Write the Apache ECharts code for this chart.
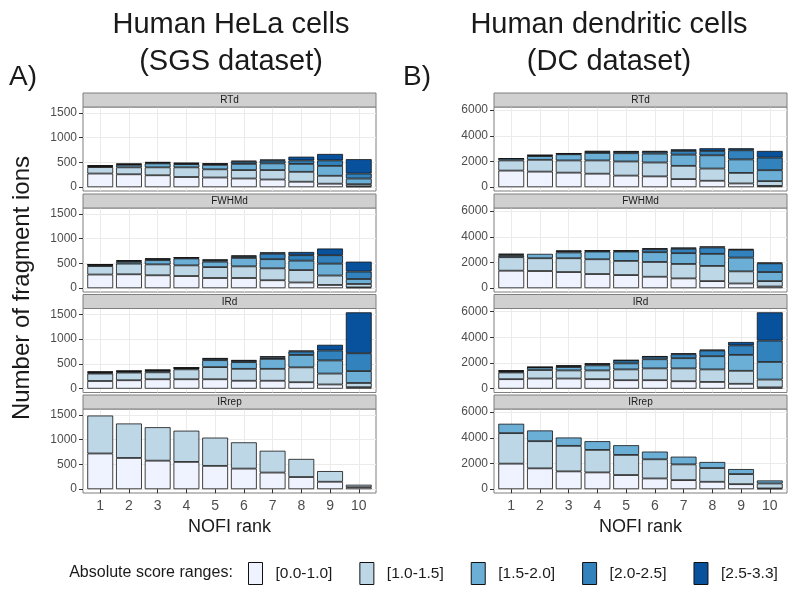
<!DOCTYPE html>
<html><head><meta charset="utf-8">
<script src="https://cdn.jsdelivr.net/npm/echarts@6/dist/echarts.min.js"></script>
<style>html,body{margin:0;padding:0;background:#fff}#c{width:800px;height:592px}</style>
</head><body><div id="c"></div>
<script>
// ---- categories / labels ----
const ranks = [1,2,3,4,5,6,7,8,9,10];
const scoreRanges = ['[0.0-1.0]','[1.0-1.5]','[1.5-2.0]','[2.0-2.5]','[2.5-3.3]'];
const facets = ['RTd','FWHMd','IRd','IRrep'];
const sgsTicks = [0,500,1000,1500];
const dcTicks = [0,2000,4000,6000];

// ---- Human HeLa cells (SGS dataset): rows = score ranges, cols = NOFI rank 1..10 ----
const sgs_RTd = [
  [275,260,240,205,195,175,155,110,70,15],
  [130,140,160,195,165,170,190,200,160,45],
  [15,50,80,65,90,125,135,160,200,115],
  [10,15,15,15,20,45,55,70,110,100],
  [10,10,10,10,10,20,25,75,130,290]
];
const sgs_FWHMd = [
  [275,280,260,245,205,205,160,115,65,15],
  [170,215,220,215,220,235,240,250,190,70],
  [25,40,85,140,110,170,185,190,240,100],
  [5,15,25,15,30,35,110,110,170,150],
  [5,15,10,5,15,15,30,65,135,200]
];
const sgs_IRd = [
  [155,170,190,190,190,160,160,130,85,30],
  [150,155,140,200,245,240,240,300,220,85],
  [20,20,30,25,140,135,200,250,265,240],
  [10,10,15,5,30,30,30,70,200,360],
  [10,5,5,5,10,10,25,20,115,825]
];
const sgs_IRrep = [
  [720,630,575,550,470,415,335,245,150,40],
  [765,695,675,630,570,530,440,365,215,50],
  [0,0,0,0,0,0,0,0,0,0],
  [0,0,0,0,0,0,0,0,0,0],
  [0,0,0,0,0,0,0,0,0,0]
];

// ---- Human dendritic cells (DC dataset) ----
const dc_RTd = [
  [1290,1210,1130,1050,900,840,630,500,290,100],
  [790,920,950,1030,1100,1080,1030,950,820,370],
  [140,290,480,580,640,690,870,1030,1050,850],
  [20,60,50,110,120,150,290,340,710,980],
  [0,20,20,40,40,50,130,210,160,520]
];
const dc_FWHMd = [
  [1360,1335,1255,1100,1020,890,760,550,365,130],
  [1050,995,1075,1150,1100,1150,1125,1180,945,420],
  [130,340,450,600,730,760,840,940,1070,705],
  [80,0,100,60,60,235,340,500,600,680],
  [50,0,50,20,20,80,105,80,80,55]
];
const dc_IRd = [
  [740,790,790,740,660,660,580,525,380,100],
  [520,660,630,680,840,920,1000,975,1010,610],
  [80,200,260,395,470,710,790,1025,1240,1370],
  [40,20,90,105,230,200,310,450,740,1660],
  [40,10,40,50,20,30,80,55,260,2200]
];
const dc_IRrep = [
  [1985,1620,1385,1305,1100,835,705,575,390,55],
  [2375,2115,1985,1750,1565,1490,1225,1070,785,390],
  [730,835,650,680,755,600,600,470,390,235],
  [0,0,0,0,0,0,0,0,0,0],
  [0,0,0,0,0,0,0,0,0,0]
];

const columns = [
  {data:[sgs_RTd,sgs_FWHMd,sgs_IRd,sgs_IRrep], ticks:sgsTicks, left:83},
  {data:[dc_RTd,dc_FWHMd,dc_IRd,dc_IRrep], ticks:dcTicks, left:494}
];

const colors = ['#EFF3FF','#BDD7E7','#6BAED6','#3182BD','#08519C'];
const FONT = 'Liberation Sans, Arial, sans-serif';
const PW = 293, PH = 84, STRIP = 14;
const stripTops = [93, 194, 294.5, 395];

const grids = [], xAxes = [], yAxes = [], series = [], graphics = [];
let gi = 0;
columns.forEach((col, ci) => {
  // ggplot-like 5% expansion of a shared y scale for the column
  let maxTot = 0;
  col.data.forEach(f => ranks.forEach((r, i) => {
    const t = f.reduce((s, row) => s + row[i], 0);
    if (t > maxTot) maxTot = t;
  }));
  const pad = maxTot * 0.05;
  col.data.forEach((f, fi) => {
    const top = stripTops[fi] + STRIP;
    const bottom = fi === 3;
    grids.push({left: col.left, top: top, width: PW, height: PH, show: true,
      backgroundColor: '#fff', borderColor: '#7f7f7f', borderWidth: 1,
      containLabel: false, outerBoundsMode: 'none'});
    xAxes.push({type: 'value', gridIndex: gi, min: 0.4, max: 10.6,
      axisLine: {show: false},
      axisTick: {show: bottom, length: 4, customValues: ranks, lineStyle: {color: '#333', width: 1}},
      axisLabel: {show: bottom, customValues: ranks, fontSize: 14, color: '#4d4d4d', margin: 6, fontFamily: FONT,
        formatter: v => String(v)},
      splitLine: {show: true, lineStyle: {color: '#ebebeb', width: 1}},
      name: bottom ? 'NOFI rank' : '', nameLocation: 'middle', nameGap: 25,
      nameTextStyle: {fontSize: 18, color: '#1a1a1a', fontFamily: FONT}});
    yAxes.push({type: 'value', gridIndex: gi, min: -pad, max: maxTot + pad,
      axisLine: {show: false},
      axisTick: {show: true, length: 4, customValues: col.ticks, lineStyle: {color: '#333', width: 1}},
      axisLabel: {customValues: col.ticks, fontSize: 12, color: '#4d4d4d', margin: 6, fontFamily: FONT,
        formatter: v => String(v)},
      splitLine: {show: true, lineStyle: {color: '#ebebeb', width: 1}}});
    f.forEach((row, k) => {
      series.push({type: 'bar', name: scoreRanges[k], xAxisIndex: gi, yAxisIndex: gi,
        stack: 'p' + gi, barWidth: '90%',
        encode: {x: 1, y: 0},
        data: ranks.map((r, i) => [row[i] === 0 ? null : row[i], r]),
        itemStyle: {color: colors[k], borderColor: '#111', borderWidth: 0.8}});
    });
    // strip
    graphics.push({type: 'rect', shape: {x: col.left, y: stripTops[fi], width: PW, height: STRIP},
      style: {fill: '#d0d0d0', stroke: '#7f7f7f', lineWidth: 1}, z: 10});
    graphics.push({type: 'text', x: col.left + PW / 2, y: stripTops[fi] + STRIP / 2 + 0.5,
      style: {text: facets[fi], fill: '#1a1a1a', fontSize: 10, fontFamily: FONT,
        align: 'center', verticalAlign: 'middle', textAlign: 'center', textVerticalAlign: 'middle'}, z: 11});
    gi++;
  });
});

function txt(text, x, y, size, extra) {
  return Object.assign({type: 'text', x: x, y: y, z: 12,
    style: {text: text, fill: '#1a1a1a', fontSize: size, fontFamily: FONT,
      align: 'center', verticalAlign: 'middle', textAlign: 'center', textVerticalAlign: 'middle'}}, extra || {});
}
graphics.push(txt('Human HeLa cells', 231, 25, 29));
graphics.push(txt('(SGS dataset)', 231, 62, 29));
graphics.push(txt('Human dendritic cells', 609, 25, 29));
graphics.push(txt('(DC dataset)', 609, 62, 29));
graphics.push(txt('A)', 23, 77, 28));
graphics.push(txt('B)', 417, 77, 28));
graphics.push(txt('Number of fragment ions', 22, 288, 24, {rotation: Math.PI / 2}));
graphics.push(txt('Absolute score ranges:', 151, 573, 16));

const chart = echarts.init(document.getElementById('c'), null, {renderer: 'canvas'});
chart.setOption({
  animation: false,
  backgroundColor: '#fff',
  textStyle: {fontFamily: FONT},
  grid: grids, xAxis: xAxes, yAxis: yAxes, series: series,
  legend: {data: scoreRanges, left: 248, top: 562, padding: 0, itemWidth: 14, itemHeight: 22, itemGap: 27,
    icon: 'rect', selectedMode: false,
    itemStyle: {borderColor: '#111', borderWidth: 1},
    textStyle: {fontSize: 15.5, color: '#1a1a1a', fontFamily: FONT, padding: [0, 0, 0, 8]}},
  graphic: graphics
});
</script></body></html>
